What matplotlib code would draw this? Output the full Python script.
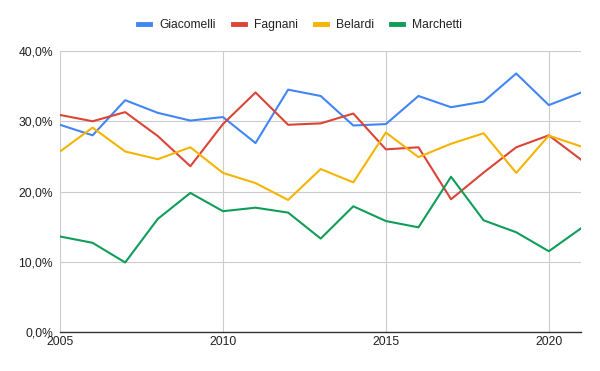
import matplotlib
matplotlib.use("Agg")
import matplotlib.pyplot as plt
from matplotlib.ticker import FuncFormatter

YEARS = list(range(2005, 2022))

GIACOMELLI = [29.5, 28.0, 33.0, 31.2, 30.1, 30.6, 26.9, 34.5, 33.6,
              29.4, 29.6, 33.6, 32.0, 32.8, 36.8, 32.3, 34.1]
FAGNANI = [30.9, 30.0, 31.3, 27.9, 23.6, 29.6, 34.1, 29.5, 29.7,
           31.1, 26.0, 26.3, 18.9, 22.7, 26.3, 28.0, 24.5]
BELARDI = [25.7, 29.1, 25.7, 24.6, 26.3, 22.65, 21.2, 18.8, 23.2,
           21.3, 28.4, 24.9, 26.8, 28.3, 22.65, 27.96, 26.4]
MARCHETTI = [13.6, 12.7, 9.9, 16.1, 19.8, 17.2, 17.7, 17.0, 13.3,
             17.9, 15.8, 14.9, 22.1, 15.9, 14.2, 11.5, 14.8]

SERIES = [
    ("Giacomelli", GIACOMELLI, "#4285F4"),
    ("Fagnani", FAGNANI, "#DB4437"),
    ("Belardi", BELARDI, "#F4B400"),
    ("Marchetti", MARCHETTI, "#0F9D58"),
]

Y_TICKS = [0, 10, 20, 30, 40]
X_TICKS = [2005, 2010, 2015, 2020]

plt.rcParams["font.family"] = ["Liberation Sans", "DejaVu Sans"]

fig = plt.figure(figsize=(6, 3.71), dpi=100)
ax = fig.add_axes([0.1, 0.105, 0.869, 0.7575])

for name, vals, color in SERIES:
    ax.plot(YEARS, vals, color=color, lw=1.5, label=name)

ax.set_xlim(2005, 2021)
ax.set_ylim(0, 40)
ax.set_yticks(Y_TICKS)
ax.set_xticks(X_TICKS)
ax.yaxis.set_major_formatter(FuncFormatter(lambda v, _: f"{v:.1f}%".replace(".", ",")))
ax.grid(True, color="#cccccc", lw=0.8)
ax.set_axisbelow(True)
for side in ("top", "right", "left"):
    ax.spines[side].set_visible(False)
ax.spines["bottom"].set_color("#333333")
ax.spines["bottom"].set_linewidth(1.0)
ax.tick_params(length=0, labelsize=8.7, colors="#222222")
ax.tick_params(axis="y", pad=5)
ax.tick_params(axis="x", pad=3)

handles, labels = ax.get_legend_handles_labels()
leg = fig.legend(handles, labels, loc="center", bbox_to_anchor=(0.5, 0.933), ncol=4,
                 frameon=False, fontsize=8.7, handlelength=1.0, handletextpad=0.75,
                 columnspacing=1.4, labelcolor="#222222")
for line in leg.get_lines():
    line.set_linewidth(3.5)

fig.savefig("out.png", dpi=100)
